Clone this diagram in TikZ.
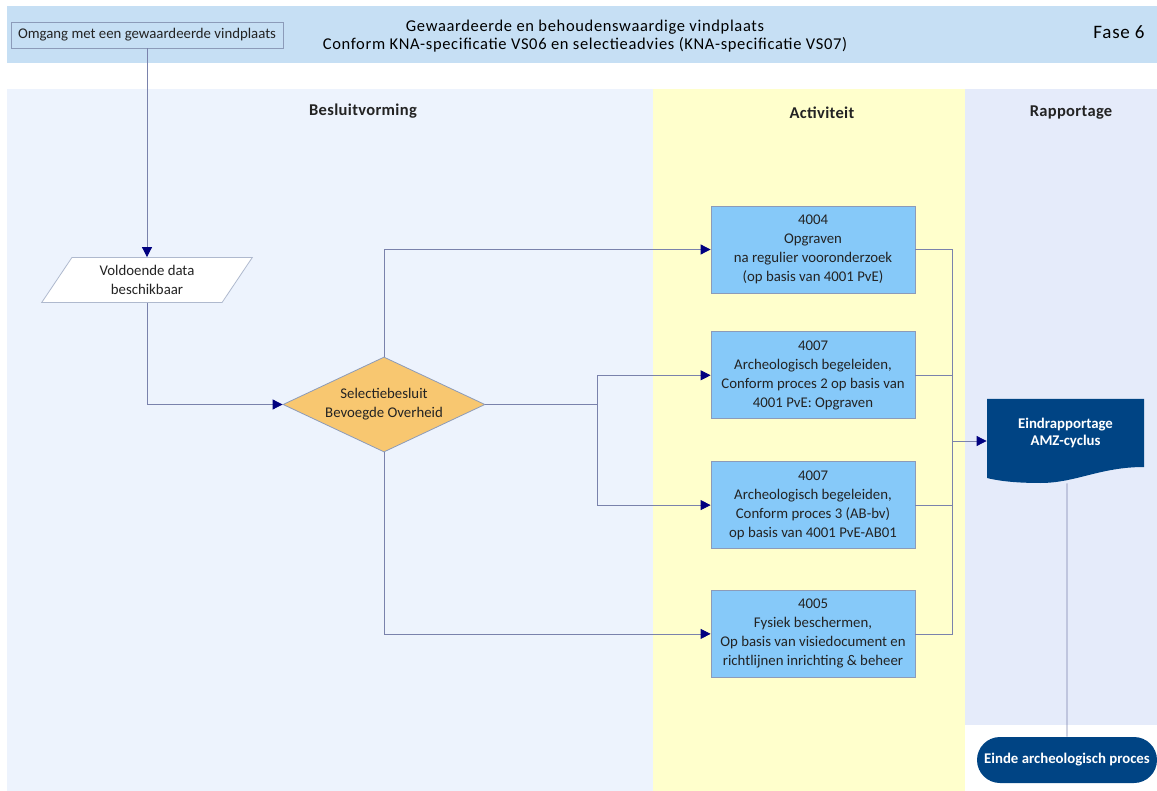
\documentclass[tikz,border=0pt]{standalone}
\usepackage{fontspec}
\setmainfont{Carlito}
\usetikzlibrary{arrows.meta,positioning,shapes.geometric,shapes.misc}

\definecolor{kop}{RGB}{198,223,244}
\definecolor{besluitbg}{RGB}{237,243,253}
\definecolor{geelbg}{RGB}{255,255,204}
\definecolor{rapportbg}{RGB}{229,235,250}
\definecolor{actblauw}{RGB}{134,201,249}
\definecolor{oranje}{RGB}{248,199,112}
\definecolor{donker}{RGB}{0,68,132}
\definecolor{lijn}{RGB}{122,130,172}
\definecolor{pijl}{RGB}{0,0,128}
\definecolor{rand}{RGB}{140,155,185}
\definecolor{tekst}{RGB}{35,35,35}

\begin{document}
\begin{tikzpicture}[x=1pt,y=-1pt,>={Triangle[length=10pt,width=10pt,color=pijl]},
    every path/.style={line width=0.8pt}]

        \tikzstyle{every node}=[font=\fontsize{14.8}{19}\selectfont, text=tekst, align=center, inner sep=2pt]
        \tikzstyle{lijnen}=[draw=lijn]
        \tikzstyle{laan}=[font=\fontsize{16.5}{19}\selectfont\bfseries\addfontfeatures{LetterSpace=2}]
        \tikzstyle{activiteit}=[rectangle, fill=actblauw, draw=rand, minimum width=204pt, minimum height=87pt]

        \useasboundingbox (0,0) rectangle (1157,791);

        % banen
        \fill[kop]       (7,6)    rectangle (1157,63);
        \fill[besluitbg] (7,89)   rectangle (653,791);
        \fill[geelbg]    (653,89) rectangle (965,791);
        \fill[rapportbg] (965,89) rectangle (1157,725);

        \node[laan] (lb) at (363,111) {Besluitvorming};
        \node[laan] (la) at (822,113) {Activiteit};
        \node[laan] (lr) at (1071,113) {Rapportage};

        \node[font=\fontsize{16.5}{18}\selectfont\addfontfeatures{LetterSpace=4}, text=black] (titel) at (585,36)
            {Gewaardeerde en behoudenswaardige vindplaats\\Conform KNA-specificatie VS06 en selectieadvies (KNA-specificatie VS07)};
        \node[font=\fontsize{19}{20}\selectfont\addfontfeatures{LetterSpace=4}, text=black] (fase) at (1119,32) {Fase 6};

        % stroom
        \node[rectangle, fill=kop, draw=rand, minimum width=272pt, minimum height=26pt] (0) at (147,35) {Omgang met een gewaardeerde vindplaats};
        \node[trapezium, trapezium left angle=57, trapezium right angle=123, trapezium stretches=true,
              fill=white, draw=rand!70, minimum width=211pt, minimum height=45pt, inner sep=0pt] (1) at (147,280) {Voldoende data\\beschikbaar};
        \node[diamond, aspect=2.1, fill=oranje, draw=rand, minimum width=202pt, minimum height=95pt, inner sep=0pt] (2) at (384,404.5) {Selectiebesluit\\Bevoegde Overheid};

        \node[activiteit] (3) at (813,249.5) {4004\\Opgraven\\na regulier vooronderzoek\\(op basis van 4001 PvE)};
        \node[activiteit] (4) [below=38pt of 3] {4007\\Archeologisch begeleiden,\\Conform proces 2 op basis van\\4001 PvE: Opgraven};
        \node[activiteit] (5) [below=42pt of 4] {4007\\Archeologisch begeleiden,\\Conform proces 3 (AB-bv)\\op basis van 4001 PvE-AB01};
        \node[activiteit] (6) [below=41pt of 5] {4005\\Fysiek beschermen,\\Op basis van visiedocument en\\richtlijnen inrichting \& beheer};

        \node[rectangle, minimum width=157pt, minimum height=84pt, text=white, text depth=18pt,
              font=\fontsize{14.8}{17}\selectfont\bfseries,
              path picture={\fill[donker] (path picture bounding box.north west) -- (path picture bounding box.north east)
                  -- ([yshift=16pt]path picture bounding box.south east) .. controls +(-44,0) and +(35,0) ..
                  ([xshift=-25pt]path picture bounding box.south) .. controls +(-30,0) and +(8,2) ..
                  ([yshift=5pt]path picture bounding box.south west) -- cycle;}] (7) at (1065.5,441) {Eindrapportage\\AMZ-cyclus};
        \node[rounded rectangle, fill=donker, text=white, minimum width=180pt, minimum height=46pt, inner sep=0pt,
              font=\fontsize{14.8}{17}\selectfont\bfseries] (8) at (1067,760) {Einde archeologisch proces};

        \coordinate (s) at (597,404.5);
        \coordinate (m) at (952,441);

        \draw[lijnen,->] (0) -- (1);
        \draw[lijnen,->] (1) |- (2);
        \draw[lijnen,->] (2) |- (3);
        \draw[lijnen] (2) -- (s);
        \draw[lijnen,->] (s) |- (4);
        \draw[lijnen,->] (s) |- (5);
        \draw[lijnen,->] (2) |- (6);
        \draw[lijnen] (3) -| (m) (4) -| (m) (5) -| (m) (6) -| (m);
        \draw[lijnen,->] (m) -- (7);
        \draw[lijnen] (7.south -| 8) -- (8);

\end{tikzpicture}
\end{document}
